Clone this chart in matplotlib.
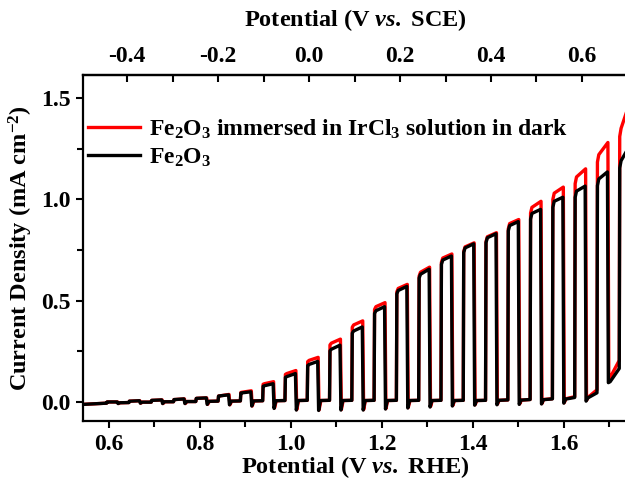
import matplotlib
matplotlib.use("Agg")
import matplotlib.pyplot as plt
from matplotlib.ticker import MultipleLocator, FixedLocator, FormatStrFormatter
import numpy as np

# chopped-light LSV (potential in V vs. RHE, current in mA cm-2)
light_on = [0.595, 0.644, 0.693, 0.742, 0.791, 0.840, 0.889, 0.938, 0.987, 1.036, 1.085, 1.134,
            1.183, 1.232, 1.281, 1.330, 1.379, 1.428, 1.477, 1.526, 1.575, 1.624, 1.673, 1.722]
light_off = [0.618, 0.667, 0.716, 0.765, 0.814, 0.863, 0.912, 0.961, 1.010, 1.059, 1.108, 1.157,
             1.206, 1.255, 1.304, 1.353, 1.402, 1.451, 1.500, 1.549, 1.598, 1.647, 1.696, 1.740]

# Fe2O3 (black)
blk_dark = [-0.006, -0.003, -0.001, 0.001, 0.002, 0.004, 0.005, 0.006, 0.007, 0.008, 0.008, 0.008,
            0.008, 0.008, 0.008, 0.008, 0.008, 0.008, 0.010, 0.012, 0.015, 0.022, 0.045, 0.165]
blk_top0 = [0.000, 0.004, 0.008, 0.012, 0.018, 0.030, 0.045, 0.080, 0.125, 0.185, 0.260, 0.350,
            0.450, 0.550, 0.630, 0.700, 0.760, 0.810, 0.870, 0.930, 0.990, 1.040, 1.100, 1.190]
blk_top1 = [0.000, 0.006, 0.010, 0.015, 0.020, 0.035, 0.050, 0.090, 0.140, 0.200, 0.280, 0.370,
            0.470, 0.570, 0.655, 0.720, 0.780, 0.830, 0.890, 0.950, 1.010, 1.065, 1.135, 1.245]
blk_dip = [-0.008, -0.006, -0.008, -0.008, -0.012, -0.014, -0.020, -0.032, -0.040, -0.042, -0.040, -0.040,
           -0.035, -0.030, -0.025, -0.020, -0.016, -0.014, -0.012, -0.010, -0.006, 0.004, 0.095, 0.0]
blk_rec = [-0.004, -0.001, 0.001, 0.002, 0.003, 0.004, 0.005, 0.006, 0.007, 0.007, 0.007, 0.007,
           0.007, 0.007, 0.007, 0.007, 0.007, 0.008, 0.009, 0.011, 0.014, 0.020, 0.100, 0.0]

# Fe2O3 immersed in IrCl3 solution in dark (red)
red_dark = [-0.006, -0.003, -0.001, 0.001, 0.002, 0.004, 0.005, 0.006, 0.007, 0.008, 0.008, 0.008,
            0.008, 0.008, 0.008, 0.008, 0.008, 0.008, 0.010, 0.012, 0.016, 0.026, 0.060, 0.205]
red_top0 = [0.000, 0.004, 0.008, 0.012, 0.018, 0.030, 0.048, 0.090, 0.140, 0.205, 0.290, 0.380,
            0.470, 0.560, 0.640, 0.710, 0.765, 0.815, 0.880, 0.960, 1.030, 1.110, 1.220, 1.350]
red_top1 = [0.000, 0.006, 0.010, 0.015, 0.020, 0.037, 0.055, 0.100, 0.155, 0.220, 0.310, 0.400,
            0.490, 0.580, 0.665, 0.730, 0.785, 0.835, 0.900, 0.990, 1.060, 1.150, 1.280, 1.450]
red_dip = [-0.008, -0.006, -0.008, -0.008, -0.012, -0.014, -0.020, -0.030, -0.038, -0.040, -0.038, -0.038,
           -0.033, -0.028, -0.023, -0.018, -0.014, -0.012, -0.010, -0.008, -0.004, 0.008, 0.115, 0.0]
red_rec = [-0.004, -0.001, 0.001, 0.002, 0.003, 0.004, 0.005, 0.006, 0.007, 0.007, 0.007, 0.007,
           0.007, 0.007, 0.007, 0.007, 0.007, 0.008, 0.009, 0.012, 0.016, 0.024, 0.125, 0.0]

sce_ticks = [-0.4, -0.2, 0.0, 0.2, 0.4, 0.6]
v_start, j_start = 0.543, -0.012
sce_offset = 1.04


def chopped_curve(on, off, dark, top0, top1, dip, rec, shift=0.0):
    xs, ys = [v_start], [j_start]
    for i in range(len(on)):
        xs += [on[i], on[i] + 0.001, on[i] + 0.004, off[i] + shift]
        ys += [dark[i], top0[i] * 0.97, top0[i], top1[i]]
        if i < len(on) - 1:
            xs += [off[i] + shift + 0.002, off[i] + shift + 0.006]
            ys += [dip[i], rec[i]]
    return np.array(xs), np.array(ys)


plt.rcParams["font.family"] = "Liberation Serif"
plt.rcParams["font.weight"] = "bold"
plt.rcParams["mathtext.fontset"] = "custom"
plt.rcParams["mathtext.rm"] = "Liberation Serif:bold"
plt.rcParams["mathtext.it"] = "Liberation Serif:italic:bold"
plt.rcParams["mathtext.bf"] = "Liberation Serif:bold"
plt.rcParams["mathtext.default"] = "rm"
plt.rcParams["axes.unicode_minus"] = False

fig = plt.figure(figsize=(6.25, 4.82), dpi=100)
ax = fig.add_axes([83 / 625, 1 - 421 / 482, 544 / 625, 346 / 482])

xr, yr = chopped_curve(light_on, light_off, red_dark, red_top0, red_top1, red_dip, red_rec, shift=0.001)
xb, yb = chopped_curve(light_on, light_off, blk_dark, blk_top0, blk_top1, blk_dip, blk_rec)
ax.plot(xr, yr, color="#ff0000", lw=2.4, label=r"Fe$_2$O$_3$ immersed in IrCl$_3$ solution in dark")
ax.plot(xb, yb, color="black", lw=2.4, label=r"Fe$_2$O$_3$")

ax.set_xlim(0.543, 1.739)
ax.set_ylim(-0.094, 1.613)
ax.xaxis.set_major_locator(MultipleLocator(0.2))
ax.xaxis.set_minor_locator(MultipleLocator(0.1))
ax.yaxis.set_major_locator(MultipleLocator(0.5))
ax.yaxis.set_minor_locator(MultipleLocator(0.25))
ax.xaxis.set_major_formatter(FormatStrFormatter("%.1f"))
ax.yaxis.set_major_formatter(FormatStrFormatter("%.1f"))
ax.tick_params(axis="both", which="major", direction="out", length=5, width=1.5, labelsize=17, pad=4)
ax.tick_params(axis="both", which="minor", direction="out", length=4, width=1.5)
for s in ax.spines.values():
    s.set_linewidth(1.6)
ax.spines["right"].set_visible(False)

ax.set_xlabel(r"Potential (V $\mathit{vs.}$ RHE)", fontsize=17.5, fontweight="bold", labelpad=0)
ax.set_ylabel(r"Current Density (mA cm$^{-2}$)", fontsize=17.5, fontweight="bold", labelpad=4)

top = ax.secondary_xaxis("top", functions=(lambda v: v - sce_offset, lambda v: v + sce_offset))
top.xaxis.set_major_locator(FixedLocator(sce_ticks))
top.xaxis.set_minor_locator(MultipleLocator(0.1))
top.xaxis.set_major_formatter(FormatStrFormatter("%.1f"))
top.tick_params(which="major", direction="in", length=5, width=1.5, labelsize=17, pad=6)
top.tick_params(which="minor", direction="in", length=5, width=1.5)
top.spines["top"].set_linewidth(1.6)
top.set_xlabel(r"Potential (V $\mathit{vs.}$ SCE)", fontsize=17.5, fontweight="bold", labelpad=14)

ax.legend(loc="upper left", bbox_to_anchor=(-0.008, 0.905), frameon=False, fontsize=17,
          handlelength=2.2, handletextpad=0.4, labelspacing=0.25, borderaxespad=0.0)

fig.savefig("out.png", dpi=100)
